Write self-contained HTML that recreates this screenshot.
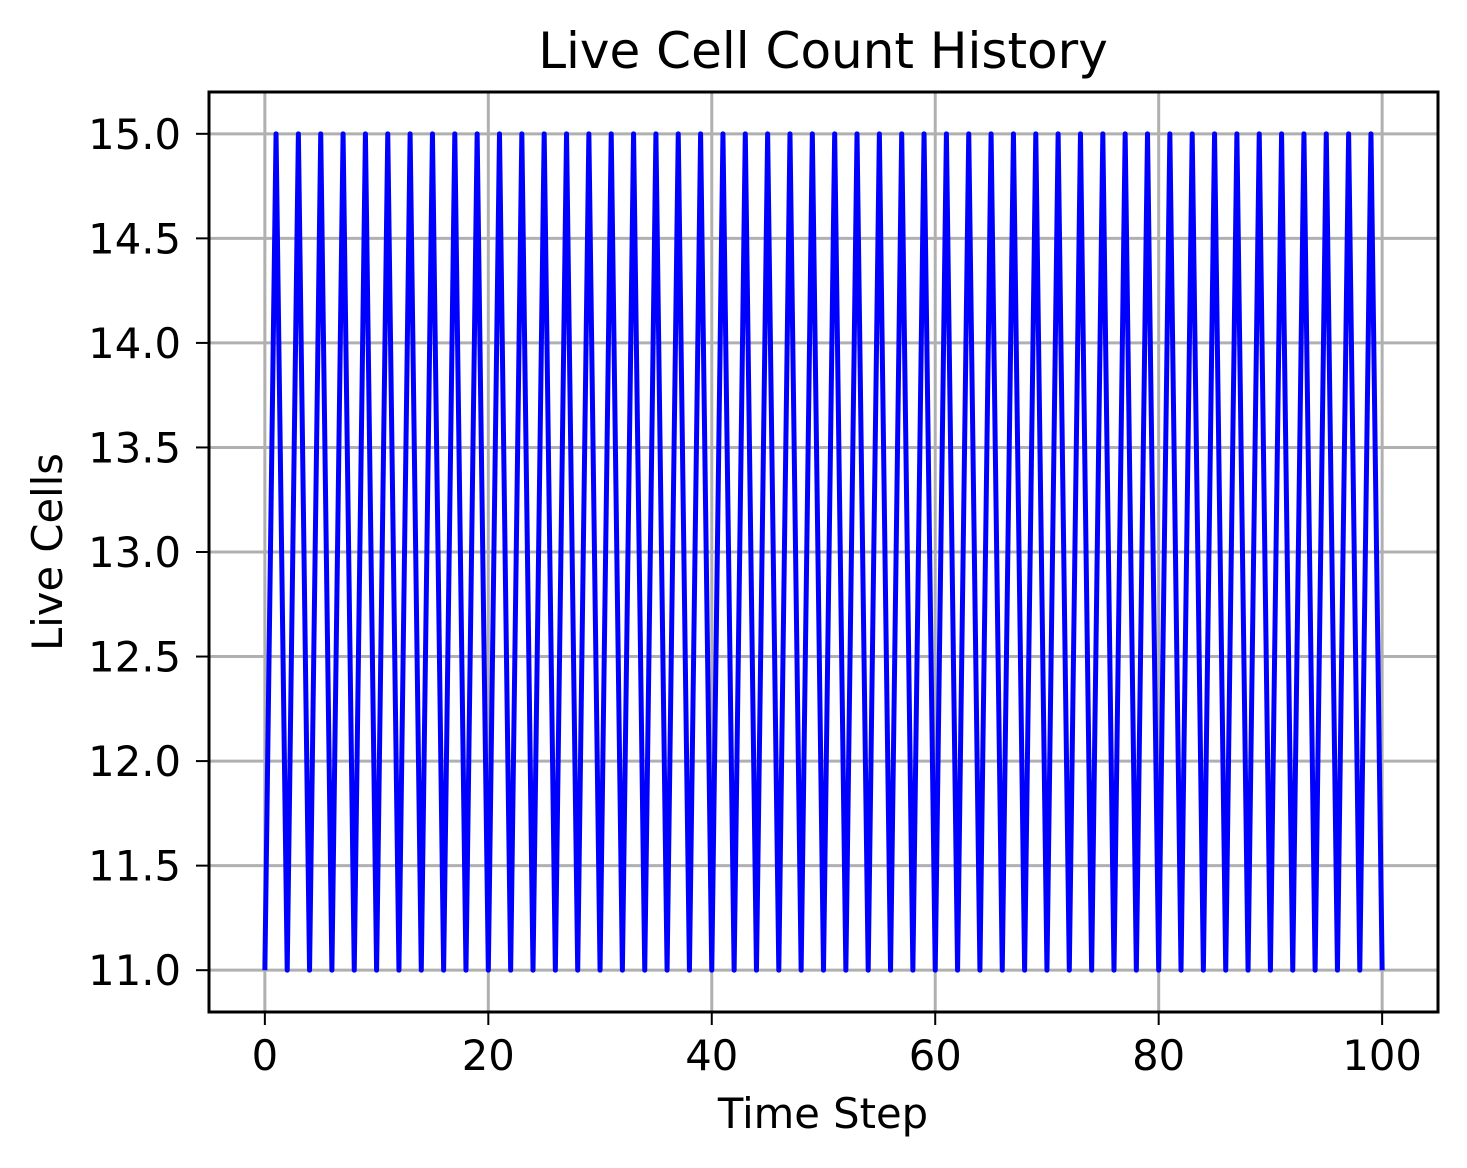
<!DOCTYPE html>
<html><head><meta charset="utf-8"><style>
html,body{margin:0;padding:0;background:#fff;}
svg{display:block;font-family:"DejaVu Sans","Liberation Sans",sans-serif;}
</style></head><body>
<svg id="chart" width="1467" height="1168" viewBox="0 0 1467 1168">
<rect x="0" y="0" width="1467" height="1168" fill="#fff"/>
<g id="grid"></g>
<g id="series"></g>
<rect x="209" y="92" width="1229" height="920" fill="none" stroke="#000" stroke-width="3"/>
<g id="xticks"></g>
<g id="yticks"></g>
<text x="823" y="68" text-anchor="middle" font-size="50">Live Cell Count History</text>
<text x="823" y="1128" text-anchor="middle" font-size="41.7">Time Step</text>
<text x="62" y="552" text-anchor="middle" font-size="41.7" transform="rotate(-90 62 552)">Live Cells</text>
</svg>
<script>
const values = [11,15,11,15,11,15,11,15,11,15,11,15,11,15,11,15,11,15,11,15,
11,15,11,15,11,15,11,15,11,15,11,15,11,15,11,15,11,15,11,15,
11,15,11,15,11,15,11,15,11,15,11,15,11,15,11,15,11,15,11,15,
11,15,11,15,11,15,11,15,11,15,11,15,11,15,11,15,11,15,11,15,
11,15,11,15,11,15,11,15,11,15,11,15,11,15,11,15,11,15,11,15,11];
const xTickValues = [0,20,40,60,80,100];
const yTickValues = [11.0,11.5,12.0,12.5,13.0,13.5,14.0,14.5,15.0];

const L=209,R=1438,T=92,B=1012;
const xmin=-5,xmax=105,ymin=10.8,ymax=15.2;
const sx=v=>L+(v-xmin)/(xmax-xmin)*(R-L);
const sy=v=>B-(v-ymin)/(ymax-ymin)*(B-T);
const NS="http://www.w3.org/2000/svg";
const grid=document.getElementById('grid'),xt=document.getElementById('xticks'),yt=document.getElementById('yticks');
function mk(tag,attrs,parent){const e=document.createElementNS(NS,tag);for(const k in attrs)e.setAttribute(k,attrs[k]);parent.appendChild(e);return e;}
xTickValues.forEach(v=>{
  const x=sx(v);
  const g=mk('line',{x1:x,x2:x,y1:T,y2:B,stroke:'#b0b0b0','stroke-width':3},grid);
  
  
  const t=mk('line',{x1:x,x2:x,y1:B,y2:B+13,stroke:'#000','stroke-width':2},xt);
  
  
  const l=mk('text',{x:x,y:1070,'text-anchor':'middle','font-size':41.7},xt);
  l.textContent=String(v);
  
  
});
yTickValues.forEach(v=>{
  const y=sy(v);
  const g=mk('line',{x1:L,x2:R,y1:y,y2:y,stroke:'#b0b0b0','stroke-width':3},grid);
  
  
  const t=mk('line',{x1:L-13,x2:L,y1:y,y2:y,stroke:'#000','stroke-width':2},yt);
  
  
  const l=mk('text',{x:181,y:y+15,'text-anchor':'end','font-size':41.7},yt);
  l.textContent=v.toFixed(1);
  
  
});
const pts=values.map((v,i)=>sx(i).toFixed(2)+','+sy(v).toFixed(2)).join(' ');
const line=mk('polyline',{points:pts,fill:'none',stroke:'#0000ff','stroke-width':5,'stroke-linejoin':'round'},document.getElementById('series'));


</script>
</body></html>
